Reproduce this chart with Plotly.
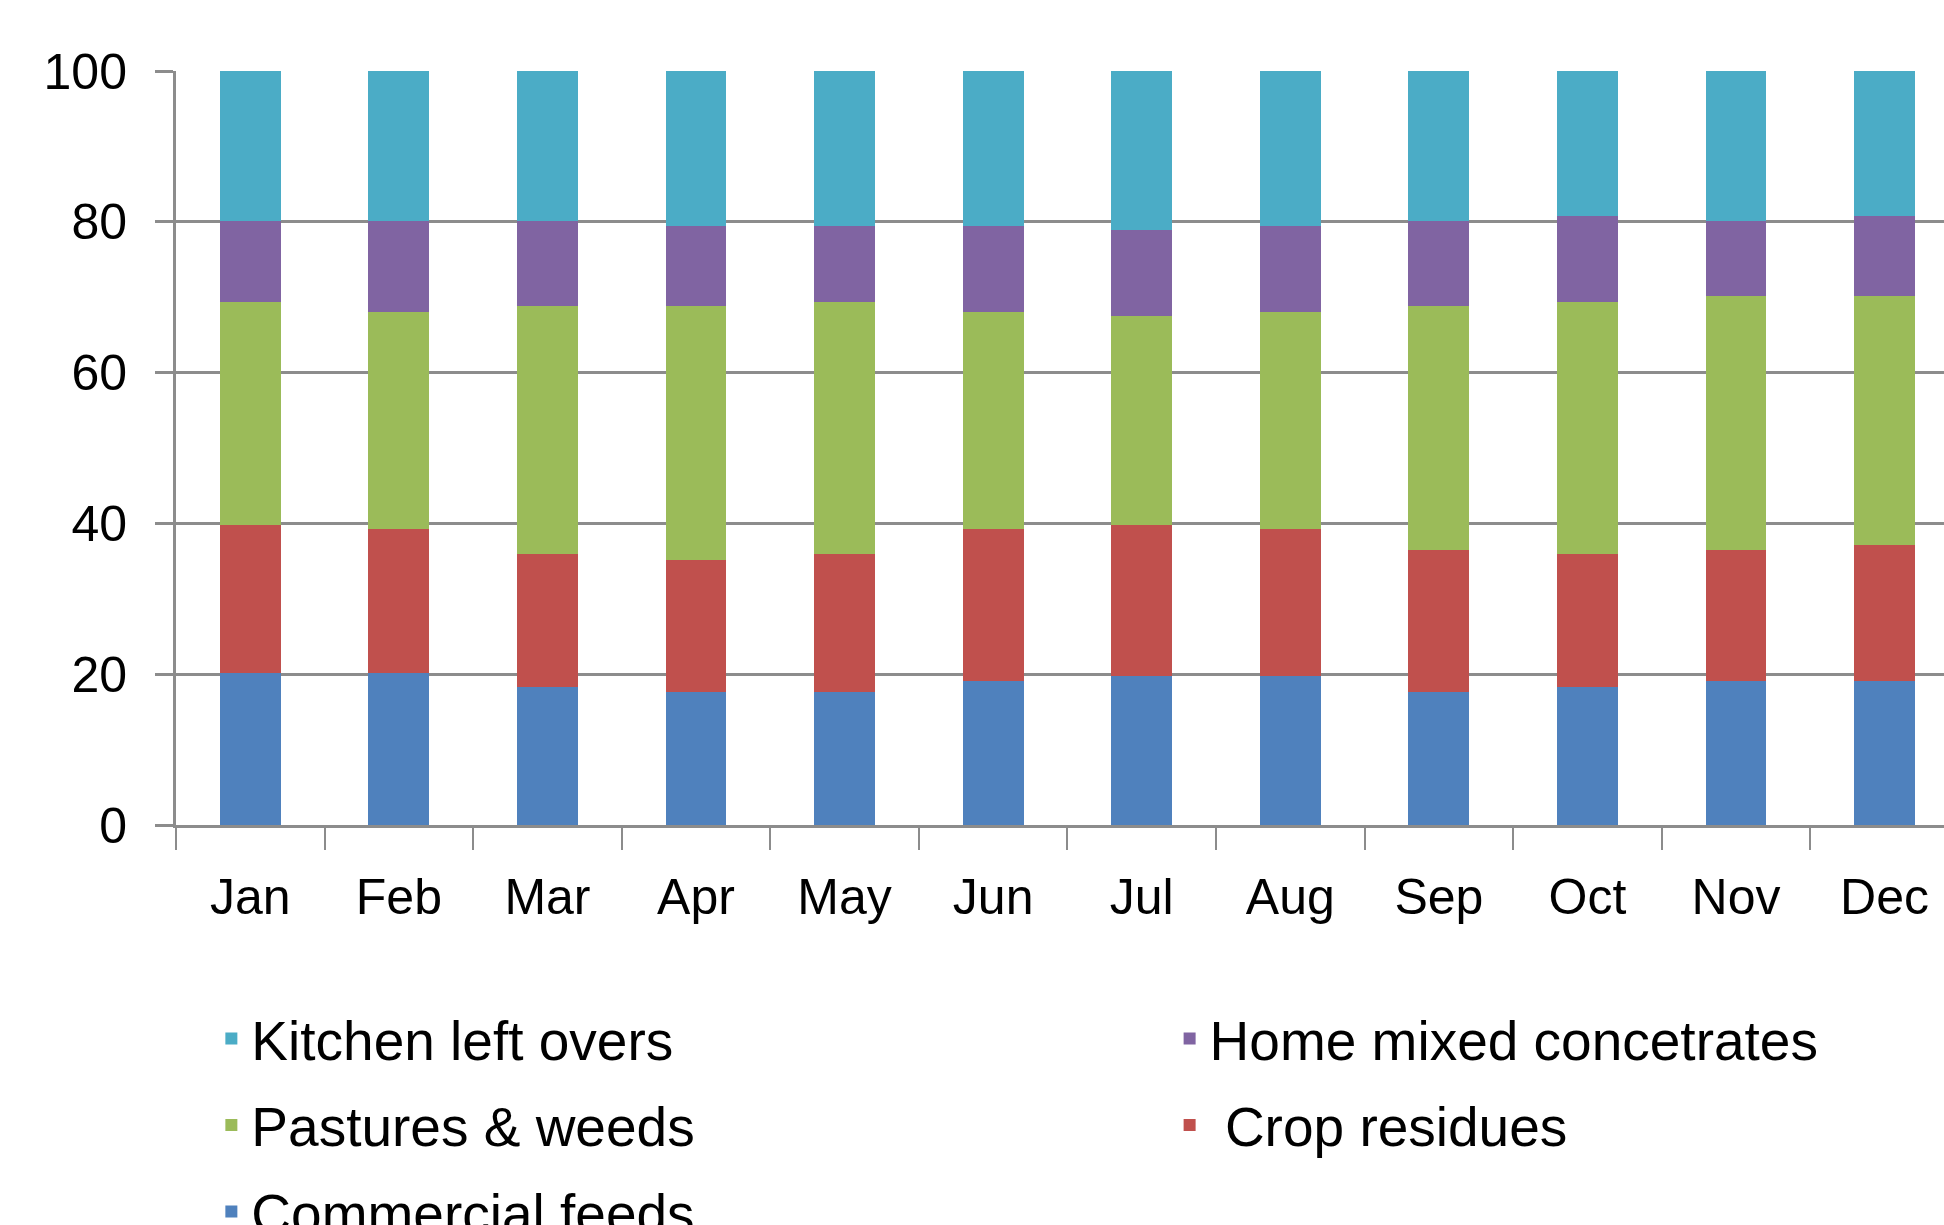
import plotly.graph_objects as go

months = ["Jan", "Feb", "Mar", "Apr", "May", "Jun", "Jul", "Aug", "Sep", "Oct", "Nov", "Dec"]

commercial_feeds = [20.1, 20.1, 18.3, 17.7, 17.7, 19.1, 19.7, 19.7, 17.7, 18.3, 19.1, 19.1]
crop_residues = [19.7, 19.2, 17.6, 17.5, 18.2, 20.2, 20.1, 19.6, 18.8, 17.6, 17.4, 18.0]
pastures_weeds = [29.6, 28.8, 32.9, 33.6, 33.5, 28.8, 27.7, 28.8, 32.3, 33.5, 33.6, 33.0]
home_mixed = [10.7, 12.0, 11.3, 10.7, 10.1, 11.4, 11.4, 11.4, 11.3, 11.4, 10.0, 10.7]
kitchen_left = [19.9, 19.9, 19.9, 20.5, 20.5, 20.5, 21.1, 20.5, 19.9, 19.2, 19.9, 19.2]

y_ticks = [0, 20, 40, 60, 80, 100]

# (name, values, colour, legend box, rank within box)
series = [
    ("Commercial feeds", commercial_feeds, "#4F81BD", "legend", 3),
    (" Crop residues", crop_residues, "#C0504D", "legend2", 2),
    ("Pastures & weeds", pastures_weeds, "#9BBB59", "legend", 2),
    ("Home mixed concetrates", home_mixed, "#8064A2", "legend2", 1),
    ("Kitchen left overs", kitchen_left, "#4BACC6", "legend", 1),
]

fig = go.Figure()
for name, vals, color, leg, rank in series:
    fig.add_trace(go.Bar(
        x=months, y=vals, name=name, legend=leg, legendrank=rank,
        legendgroup=name,
        marker=dict(color=color, line=dict(width=0)),
    ))

axis_color = "#8C8C8C"
legend_common = dict(
    orientation="v",
    yanchor="top",
    font=dict(size=55),
    tracegroupgap=12,
    bgcolor="rgba(0,0,0,0)",
)
fig.update_layout(
    barmode="stack",
    bargap=0.59,
    width=1944, height=1225,
    margin=dict(l=176, r=0, t=71, b=400, autoexpand=False),
    paper_bgcolor="white",
    plot_bgcolor="white",
    font=dict(family="Liberation Sans, Arial, sans-serif", color="#000000"),
    showlegend=True,
    legend=dict(x=0.02, xanchor="left", y=-0.227, **legend_common),
    legend2=dict(x=0.562, xanchor="left", y=-0.227, **legend_common),
    xaxis=dict(
        range=[-0.5, 11.4],
        showline=True, linecolor=axis_color, linewidth=3,
        ticks="outside", tickson="boundaries", ticklen=22, tickwidth=2, tickcolor=axis_color,
        tickfont=dict(size=50),
        showgrid=False,
        ticklabelstandoff=26,
    ),
    yaxis=dict(
        range=[0, 100],
        tickvals=y_ticks,
        showline=True, linecolor=axis_color, linewidth=3,
        ticks="outside", ticklen=18, tickwidth=3, tickcolor=axis_color,
        tickfont=dict(size=50),
        showgrid=True, gridcolor=axis_color, gridwidth=3,
        zeroline=False,
        ticklabelstandoff=18,
    ),
)

fig.write_html("out.html")
